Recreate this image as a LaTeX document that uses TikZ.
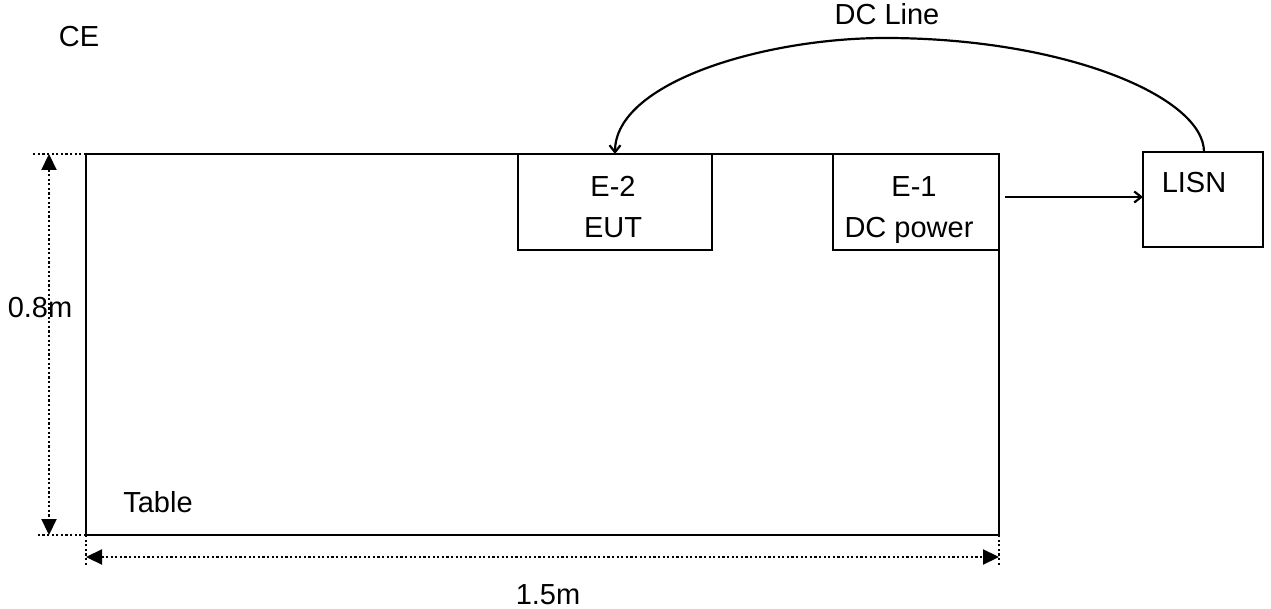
\documentclass[tikz,border=0pt]{standalone}
\usepackage{fontspec}
\setmainfont{Liberation Sans}
\usetikzlibrary{arrows.meta}
\begin{document}
\begin{tikzpicture}[x=1pt,y=-1pt,
  box/.style={draw,line width=2.2pt,inner sep=0pt,outer sep=0pt},
  lbl/.style={font=\fontsize{29}{34}\selectfont,anchor=base,inner sep=0pt},
  conn/.style={line width=2.2pt},
  dimline/.style={line width=2.2pt,dash pattern=on 2.2pt off 2.4pt},
  dimarrow/.style={dimline,{Triangle[length=16pt,width=15pt]}-{Triangle[length=16pt,width=15pt]}}]
\useasboundingbox (0,0) rectangle (1271,609);
% boxes
\node[box,minimum width=913pt,minimum height=381pt] (table) at (542.5,344.5) {};
\node[box,minimum width=194pt,minimum height=96pt] (eut) at (615,202) {};
\node[box,minimum width=166pt,minimum height=96pt] (e1) at (916,202) {};
\node[box,minimum width=120pt,minimum height=95pt] (lisn) at (1203,199.5) {};
% labels
\node[lbl] (ce) at (79,47) {CE};
\node[lbl] (dcl) at (887,25) {DC Line};
\node[lbl] (e2t) at (613,197) {E-2};
\node[lbl] (eutt) at (613,238) {EUT};
\node[lbl] (e1t) at (914,197) {E-1};
\node[lbl] (dcp) at (909,238) {DC power};
\node[lbl] (lisnt) at (1194,193) {LISN};
\node[lbl] (h) at (40,318) {0.8m};
\node[lbl] (tab) at (158,512) {Table};
\node[lbl] (w) at (548,604) {1.5m};
% connectors
\coordinate (peak) at (885,38);
\draw[conn,-{Straight Barb[length=7pt,width=11pt]}] ([xshift=1pt]lisn.north) .. controls +(0,-55) and (1065,38) .. (peak) .. controls (765,38) and (615,82) .. (eut.north);
\draw[conn,-{Straight Barb[length=7pt,width=11pt]}] ([shift={(6pt,5pt)}]e1.east) -- ([yshift=2.5pt]lisn.west);
% dimensions
\coordinate (tl) at (33,154);
\coordinate (bl) at (38,535);
\coordinate (vt) at (49,154);
\coordinate (vb) at (49,535);
\coordinate (el) at (86,565);
\coordinate (er) at (999,565);
\coordinate (hl) at (86,557);
\coordinate (hr) at (999,557);
\draw[dimline] (table.north west) -- (tl);
\draw[dimline] (table.south west) -- (bl);
\draw[dimline] (table.south west) -- (el);
\draw[dimline] (table.south east) -- (er);
\draw[dimarrow] (vt) -- (vb);
\draw[dimarrow] (hl) -- (hr);
\end{tikzpicture}
\end{document}
